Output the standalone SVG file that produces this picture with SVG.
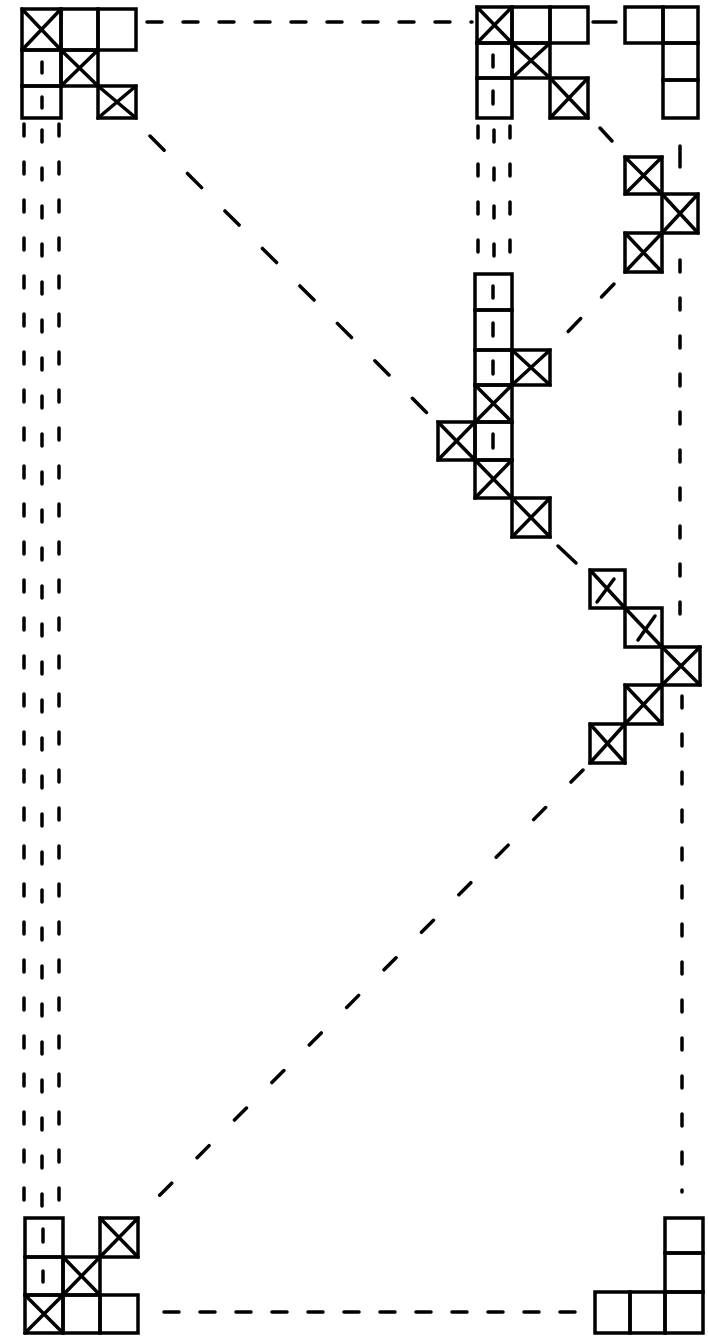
<svg xmlns="http://www.w3.org/2000/svg" width="708" height="1336" viewBox="0 0 708 1336">
<style>
.c{fill:none;stroke:#000;stroke-width:3.5;stroke-linejoin:miter;stroke-linecap:square}
.x{fill:none;stroke:#000;stroke-width:3.5;stroke-linecap:round}
.t{fill:none;stroke:#000;stroke-width:3.5;stroke-linecap:round}
.d{fill:none;stroke:#000;stroke-width:3.5;stroke-linecap:round}
.h{stroke-dasharray:15 21}
.v{stroke-dasharray:12 26}
.g{stroke-dasharray:20 33}
</style>
<rect width="708" height="1336" fill="#fff"/>
<g id="connectors">
<line class="d h" x1="147" y1="22" x2="472" y2="22"/>
<line class="d" x1="593" y1="22" x2="616" y2="22"/>
<line class="d g" x1="150" y1="136" x2="432" y2="418"/>
<line class="d" x1="600" y1="128" x2="612" y2="141"/>
<line class="d" style="stroke-dasharray:18 30" x1="614" y1="284" x2="560" y2="340"/>
<line class="d" x1="558" y1="546" x2="576" y2="563"/>
<line class="d" style="stroke-dasharray:17 36" x1="583" y1="770" x2="143" y2="1212"/>
<line class="d h" x1="164" y1="1312" x2="582" y2="1312"/>
<line class="d v" x1="24" y1="124" x2="24" y2="1212"/>
<line class="d v" x1="42" y1="130" x2="42" y2="1212"/>
<line class="d v" x1="59" y1="124" x2="59" y2="1212"/>
<line class="d v" x1="478" y1="126" x2="478" y2="270"/>
<line class="d v" x1="494" y1="130" x2="494" y2="270"/>
<line class="d v" x1="510" y1="126" x2="510" y2="270"/>
<line class="d" x1="680" y1="146" x2="680" y2="167"/>
<line class="d v" x1="680" y1="260" x2="680" y2="640"/>
<line class="d v" x1="682" y1="696" x2="682" y2="1192"/>
</g>
<g id="top-left">
<rect class="c" x="22" y="9" width="39" height="41"/><path class="x" d="M22 9L61 50M61 9L22 50"/>
<rect class="c" x="61" y="9" width="37" height="41"/>
<rect class="c" x="98" y="9" width="38" height="41"/>
<rect class="c" x="22" y="50" width="39" height="36"/><line class="t" x1="42" y1="62" x2="42" y2="73"/>
<rect class="c" x="61" y="50" width="37" height="36"/><path class="x" d="M61 50L98 86M98 50L61 86"/>
<rect class="c" x="22" y="86" width="39" height="32"/><line class="t" x1="42" y1="97" x2="42" y2="108"/>
<rect class="c" x="98" y="86" width="38" height="32"/><path class="x" d="M98 86L136 118M136 86L98 118"/>
</g>
<g id="top-middle">
<rect class="c" x="477" y="7" width="35" height="36"/><path class="x" d="M477 7L512 43M512 7L477 43"/>
<rect class="c" x="512" y="7" width="38" height="36"/>
<rect class="c" x="550" y="7" width="38" height="36"/>
<rect class="c" x="477" y="43" width="35" height="35"/><line class="t" x1="493" y1="55" x2="493" y2="67"/>
<rect class="c" x="512" y="43" width="38" height="35"/><path class="x" d="M512 43L550 78M550 43L512 78"/>
<rect class="c" x="477" y="78" width="35" height="40"/><line class="t" x1="493" y1="91" x2="493" y2="104"/>
<rect class="c" x="550" y="78" width="38" height="40"/><path class="x" d="M550 78L588 118M588 78L550 118"/>
</g>
<g id="top-right">
<rect class="c" x="625" y="7" width="38" height="36"/>
<rect class="c" x="663" y="7" width="35" height="36"/>
<rect class="c" x="663" y="43" width="35" height="37"/>
<rect class="c" x="663" y="80" width="35" height="38"/>
</g>
<g id="right-stack">
<rect class="c" x="625" y="157" width="37" height="37"/><path class="x" d="M625 157L662 194M662 157L625 194"/>
<rect class="c" x="662" y="194" width="36" height="39"/><path class="x" d="M662 194L698 233M698 194L662 233"/>
<rect class="c" x="625" y="233" width="37" height="39"/><path class="x" d="M625 233L662 272M662 233L625 272"/>
</g>
<g id="middle-column">
<rect class="c" x="475" y="274" width="37" height="36"/><line class="t" x1="493" y1="286" x2="493" y2="298"/>
<rect class="c" x="475" y="310" width="37" height="40"/><line class="t" x1="493" y1="323" x2="493" y2="336"/>
<rect class="c" x="475" y="350" width="37" height="35"/><line class="t" x1="493" y1="361" x2="493" y2="374"/>
<rect class="c" x="512" y="350" width="38" height="35"/><path class="x" d="M512 350L550 385M550 350L512 385"/>
<rect class="c" x="475" y="385" width="37" height="37"/><path class="x" d="M475 385L512 422M512 385L475 422"/>
<rect class="c" x="438" y="422" width="37" height="38"/><path class="x" d="M438 422L475 460M475 422L438 460"/>
<rect class="c" x="475" y="422" width="37" height="38"/><line class="t" x1="493" y1="434" x2="493" y2="448"/>
<rect class="c" x="475" y="460" width="37" height="38"/><path class="x" d="M475 460L512 498M512 460L475 498"/>
<rect class="c" x="512" y="498" width="38" height="39"/><path class="x" d="M512 498L550 537M550 498L512 537"/>
</g>
<g id="zigzag">
<rect class="c" x="590" y="570" width="35" height="38"/><path class="x" d="M590 570L625 608M614 579L597 602"/>
<rect class="c" x="625" y="608" width="37" height="39"/><path class="x" d="M625 608L662 647M655 616L638 640"/>
<rect class="c" x="662" y="647" width="38" height="38"/><path class="x" d="M662 647L700 685M700 647L662 685"/>
<rect class="c" x="625" y="685" width="37" height="39"/><path class="x" d="M625 685L662 724M662 685L625 724"/>
<rect class="c" x="590" y="724" width="35" height="39"/><path class="x" d="M590 724L625 763M625 724L590 763"/>
</g>
<g id="bottom-left">
<rect class="c" x="25" y="1218" width="38" height="39"/><line class="t" x1="43" y1="1229" x2="43" y2="1242"/>
<rect class="c" x="100" y="1218" width="38" height="39"/><path class="x" d="M100 1218L138 1257M138 1218L100 1257"/>
<rect class="c" x="25" y="1257" width="38" height="38"/><line class="t" x1="43" y1="1271" x2="43" y2="1282"/>
<rect class="c" x="63" y="1257" width="37" height="38"/><path class="x" d="M63 1257L100 1295M100 1257L63 1295"/>
<rect class="c" x="25" y="1295" width="38" height="38"/><path class="x" d="M25 1295L63 1333M63 1295L25 1333"/>
<rect class="c" x="63" y="1295" width="37" height="38"/>
<rect class="c" x="100" y="1295" width="38" height="38"/>
</g>
<g id="bottom-right">
<rect class="c" x="665" y="1218" width="38" height="35"/>
<rect class="c" x="665" y="1253" width="38" height="39"/>
<rect class="c" x="595" y="1292" width="35" height="41"/>
<rect class="c" x="630" y="1292" width="35" height="41"/>
<rect class="c" x="665" y="1292" width="38" height="41"/>
</g>
</svg>
